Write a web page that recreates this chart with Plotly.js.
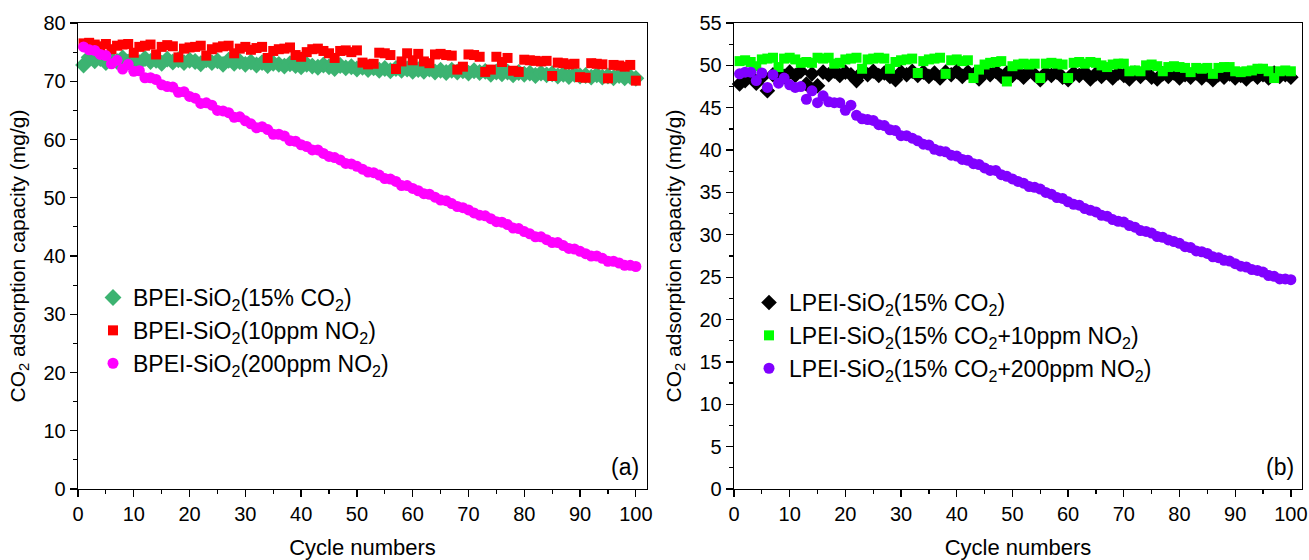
<!DOCTYPE html>
<html>
<head>
<meta charset="utf-8">
<script src="https://cdn.plot.ly/plotly-3.0.1.min.js"></script>
<style>html,body{margin:0;padding:0;background:#fff;}#chart{width:1309px;height:560px;}</style>
</head>
<body>
<div id="chart"></div>
<script>
// cycle index 1..100
const cycles = Array.from({length: 100}, (_, i) => i + 1);

// Panel (a): BPEI-SiO2
const bpei_co2 = [
72.8,74.1,73.5,73.9,73.2,73.8,73.4,74.0,73.3,73.7,
73.2,73.9,73.4,73.6,73.1,73.8,73.3,73.7,73.2,73.6,
73.4,73.0,73.7,73.2,73.5,72.9,73.6,73.1,73.4,72.9,
73.3,72.8,73.2,72.7,73.1,72.9,72.6,73.0,72.7,72.5,
72.9,72.6,72.4,72.8,72.5,72.2,72.7,72.3,72.5,72.1,
72.4,72.0,72.3,71.9,72.2,71.8,72.2,71.9,72.1,71.7,
72.0,71.7,72.1,71.6,71.9,71.5,71.9,71.6,71.8,71.4,
71.8,71.5,71.7,71.2,71.6,71.3,71.6,71.1,71.5,71.2,
71.4,71.0,71.4,71.1,71.3,70.9,71.2,70.8,71.2,70.9,
71.0,70.7,71.1,70.7,70.9,70.6,71.0,70.6,70.8,70.5];

const bpei_10ppm = [
76.5,76.6,76.3,76.0,76.4,75.5,76.1,76.3,76.4,74.9,
75.9,76.1,76.3,74.6,75.9,76.2,76.0,74.1,75.6,75.8,
75.9,76.1,74.4,75.5,75.8,76.0,76.1,74.8,75.6,75.9,
75.4,75.7,75.9,74.0,75.2,75.5,75.6,75.8,74.5,74.2,
75.0,75.5,75.6,75.2,74.8,74.0,75.2,75.3,75.0,75.3,
73.2,72.9,73.0,74.9,74.8,74.5,72.1,73.4,74.8,73.6,
74.7,73.4,73.1,74.6,74.7,74.5,74.4,72.0,72.5,74.6,
74.5,74.2,71.6,72.0,74.2,73.3,74.0,71.8,71.6,73.7,
73.6,73.5,73.4,73.5,70.9,73.2,73.1,72.9,73.0,70.7,
70.6,73.1,73.0,72.9,70.5,72.8,72.7,72.5,72.8,70.1];

const bpei_200ppm = [
75.9,75.4,75.3,74.6,74.4,73.0,73.6,72.1,72.9,71.7,
71.8,70.6,70.6,70.3,69.4,69.1,69.0,68.1,68.2,67.4,
67.1,66.2,66.3,65.9,65.0,64.9,64.6,63.8,63.9,63.2,
62.7,62.0,62.2,61.7,60.9,60.9,60.6,59.8,59.7,59.1,
58.8,58.2,58.2,57.6,57.1,56.9,56.5,55.9,55.8,55.4,
54.9,54.4,54.3,53.9,53.3,53.2,52.8,52.1,52.1,51.6,
51.2,50.7,50.6,50.1,49.6,49.5,49.0,48.5,48.3,47.9,
47.4,47.0,46.9,46.4,45.9,45.8,45.4,44.8,44.7,44.2,
43.8,43.3,43.3,42.8,42.3,42.3,41.8,41.3,41.2,40.8,
40.4,40.0,40.0,39.6,39.1,39.1,38.8,38.4,38.4,38.2];

// Panel (b): LPEI-SiO2
const lpei_co2 = [
47.8,48.2,48.7,47.9,48.6,47.0,48.9,49.2,48.7,49.2,
48.8,49.3,47.8,49.0,47.6,49.2,48.9,49.3,48.8,49.2,
48.9,48.2,49.2,48.9,49.3,48.8,49.1,48.7,48.3,49.2,
48.9,49.3,48.8,49.2,48.7,49.1,48.5,49.2,48.9,49.3,
48.7,49.2,48.9,48.4,49.2,48.9,49.3,48.7,49.1,48.8,
49.2,48.6,49.3,48.9,48.3,49.1,48.8,49.2,48.6,48.3,
49.1,48.8,49.2,48.4,49.0,48.7,49.2,48.5,49.1,48.8,
48.4,49.1,48.7,49.2,48.6,48.4,49.0,48.7,49.1,48.5,
48.9,48.6,49.1,48.5,48.9,48.3,48.9,48.6,49.0,48.5,
48.8,48.4,49.0,48.6,48.9,48.5,49.1,48.7,48.9,48.6];

const lpei_10ppm = [
50.5,50.6,50.4,49.9,50.7,50.8,50.9,49.8,50.8,50.9,
50.7,50.3,50.4,50.3,50.9,50.8,50.9,50.2,50.3,50.7,
50.8,50.9,49.6,50.7,50.8,50.9,50.8,49.6,50.4,50.6,
50.7,50.8,49.1,50.5,50.7,50.8,50.9,49.0,50.6,50.7,
50.5,50.6,48.5,49.5,50.1,50.3,50.4,50.5,48.1,49.9,
50.1,50.2,50.1,50.2,48.5,50.2,50.3,50.2,50.1,48.5,
50.3,50.4,50.2,50.4,50.3,50.0,49.8,50.1,50.2,50.2,
49.3,49.4,49.3,50.0,50.1,49.9,49.3,49.8,49.9,49.8,
49.7,49.2,49.7,49.6,49.7,49.0,49.7,49.8,49.8,49.3,
49.2,49.3,49.4,49.6,49.6,49.3,48.5,49.3,49.4,49.3];

const lpei_200ppm = [
49.0,49.2,49.2,48.2,49.1,47.4,48.9,47.9,48.5,47.7,
47.4,47.5,46.0,47.0,45.6,46.4,45.7,45.6,45.6,44.7,
45.3,44.1,43.7,43.6,43.5,43.0,42.9,42.4,42.3,41.7,
41.7,41.4,41.1,40.7,40.6,40.1,39.9,39.8,39.4,39.3,
38.9,38.8,38.4,38.3,37.9,37.6,37.6,37.1,36.9,36.6,
36.3,36.1,35.7,35.6,35.4,35.0,34.8,34.4,34.3,33.9,
33.6,33.5,33.1,32.9,32.7,32.3,32.2,31.8,31.6,31.5,
31.1,30.9,30.5,30.4,30.2,29.8,29.7,29.4,29.2,29.0,
28.6,28.5,28.1,28.0,27.8,27.4,27.3,27.0,26.9,26.6,
26.3,26.2,25.9,25.8,25.6,25.2,25.1,24.8,24.8,24.7];

const namesA = ['BPEI-SiO<sub>2</sub>(15% CO<sub>2</sub>)','BPEI-SiO<sub>2</sub>(10ppm NO<sub>2</sub>)','BPEI-SiO<sub>2</sub>(200ppm NO<sub>2</sub>)'];
const namesB = ['LPEI-SiO<sub>2</sub>(15% CO<sub>2</sub>)','LPEI-SiO<sub>2</sub>(15% CO<sub>2</sub>+10ppm NO<sub>2</sub>)','LPEI-SiO<sub>2</sub>(15% CO<sub>2</sub>+200ppm NO<sub>2</sub>)'];

const FONT = 'Liberation Sans, Arial, sans-serif';

function tr(y, name, sym, color, size, xa, ya, leg) {
  return {x: cycles, y: y, name: name, type: 'scatter', mode: 'markers',
    marker: {symbol: sym, color: color, size: size, line: {width: 0}},
    xaxis: xa, yaxis: ya, legend: leg, cliponaxis: false};
}

const data = [
  tr(bpei_co2, namesA[0], 'diamond', '#3CB371', 13, 'x', 'y', 'legend'),
  tr(bpei_10ppm, namesA[1], 'square', '#FF0000', 10, 'x', 'y', 'legend'),
  tr(bpei_200ppm, namesA[2], 'circle', '#FF00FF', 11, 'x', 'y', 'legend'),
  tr(lpei_co2, namesB[0], 'diamond', '#000000', 12, 'x2', 'y2', 'legend2'),
  tr(lpei_10ppm, namesB[1], 'square', '#00FF00', 10, 'x2', 'y2', 'legend2'),
  tr(lpei_200ppm, namesB[2], 'circle', '#8000FF', 11, 'x2', 'y2', 'legend2')
];

function xax(domain, anchor) {
  return {domain: domain, anchor: anchor, range: [0, 102], dtick: 10, tick0: 0,
    showline: true, linecolor: '#000', linewidth: 1.3, mirror: true,
    ticks: 'outside', ticklen: 7, tickwidth: 1.3, tickcolor: '#000',
    minor: {dtick: 5, ticks: 'outside', ticklen: 4, tickwidth: 1.2, tickcolor: '#000', showgrid: false},
    showgrid: false, zeroline: false,
    tickfont: {family: FONT, size: 20, color: '#000'},
    title: {text: 'Cycle numbers', font: {family: FONT, size: 22, color: '#000'}, standoff: 16}};
}
function yax(domain, anchor, range, dtick, minor) {
  return {domain: domain, anchor: anchor, range: range, dtick: dtick, tick0: 0,
    showline: true, linecolor: '#000', linewidth: 1.3, mirror: true,
    ticks: 'outside', ticklen: 7, tickwidth: 1.3, tickcolor: '#000',
    minor: {dtick: minor, ticks: 'outside', ticklen: 4, tickwidth: 1.2, tickcolor: '#000', showgrid: false},
    showgrid: false, zeroline: false,
    tickfont: {family: FONT, size: 20, color: '#000'},
    title: {text: 'CO<sub>2</sub> adsorption capacity (mg/g)', font: {family: FONT, size: 21, color: '#000'}, standoff: 12}};
}

const yd = [1 - 489/560, 1 - 23/560];
const layout = {
  width: 1309, height: 560,
  margin: {l: 0, r: 0, t: 0, b: 0},
  paper_bgcolor: '#fff', plot_bgcolor: '#fff',
  font: {family: FONT, color: '#000'},
  xaxis: xax([78/1309, 647/1309], 'y'),
  yaxis: yax(yd, 'x', [0, 80], 10, 5),
  xaxis2: xax([734/1309, 1302/1309], 'y2'),
  yaxis2: yax(yd, 'x2', [0, 55], 5, 2.5),
  legend: {x: 93/1309, y: 1 - 276/560, xanchor: 'left', yanchor: 'top', bgcolor: 'rgba(0,0,0,0)',
    font: {family: FONT, size: 23, color: '#000'}, itemwidth: 30, tracegroupgap: 0},
  legend2: {x: 749/1309, y: 1 - 281/560, xanchor: 'left', yanchor: 'top', bgcolor: 'rgba(0,0,0,0)',
    font: {family: FONT, size: 23, color: '#000'}, itemwidth: 30, tracegroupgap: 0},
  annotations: [
    {text: '(a)', xref: 'paper', yref: 'paper', x: 641/1309, y: 1 - 467/560, xanchor: 'right', yanchor: 'middle', showarrow: false, font: {family: FONT, size: 23, color: '#000'}},
    {text: '(b)', xref: 'paper', yref: 'paper', x: 1296/1309, y: 1 - 467/560, xanchor: 'right', yanchor: 'middle', showarrow: false, font: {family: FONT, size: 23, color: '#000'}}
  ],
  showlegend: true
};

Plotly.newPlot('chart', data, layout, {displayModeBar: false, staticPlot: true});
</script>
</body>
</html>
